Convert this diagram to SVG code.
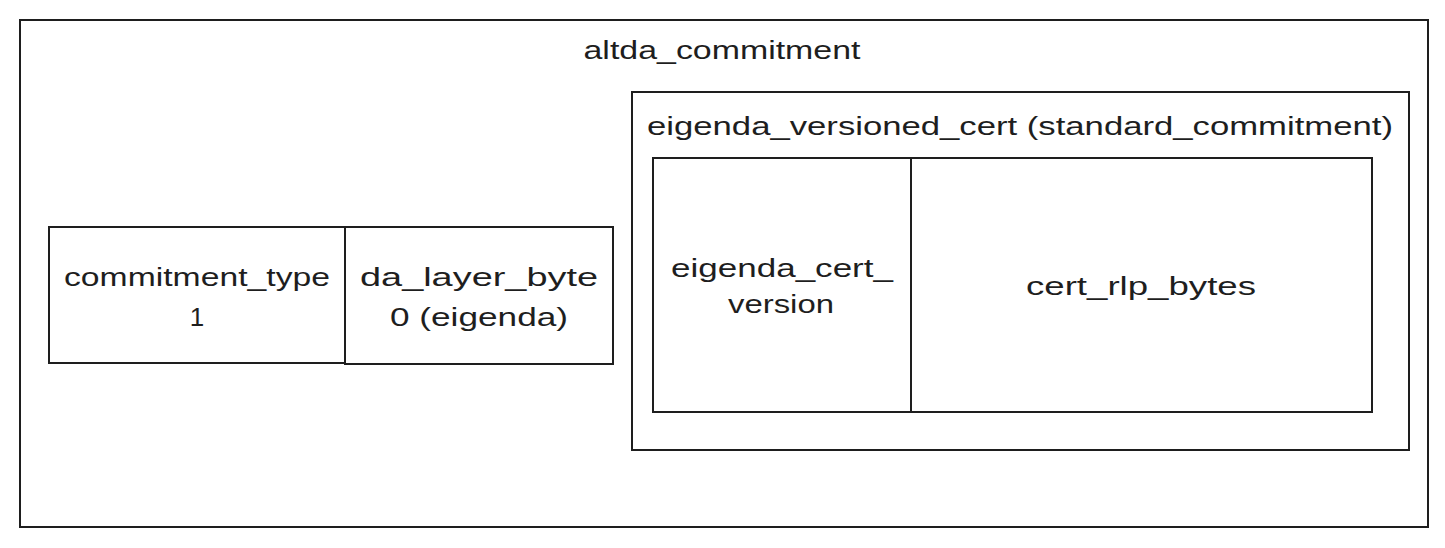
<svg xmlns="http://www.w3.org/2000/svg" width="1445" height="548" viewBox="0 0 1445 548">
<style>
.box{fill:none;stroke:#1e1e1e;stroke-width:2}
.t{font-family:"Liberation Sans","Noto Sans",sans-serif;font-size:26px;fill:#1e1e1e;text-anchor:middle}
</style>
<rect width="1445" height="548" fill="#ffffff"/>
<g id="altda_commitment">
<rect class="box" x="20" y="20" width="1408" height="507"/>
<text class="t" x="722" y="59" textLength="277" lengthAdjust="spacingAndGlyphs">altda_commitment</text>
</g>
<g id="commitment_type">
<rect class="box" x="49" y="227" width="296" height="136"/>
<text class="t" x="197" y="286" textLength="266" lengthAdjust="spacingAndGlyphs">commitment_type</text>
<text class="t" x="197" y="326">1</text>
</g>
<g id="da_layer_byte">
<rect class="box" x="345" y="227" width="268" height="137"/>
<text class="t" x="479" y="286" textLength="238" lengthAdjust="spacingAndGlyphs">da_layer_byte</text>
<text class="t" x="479" y="326" textLength="178" lengthAdjust="spacingAndGlyphs">0 (eigenda)</text>
</g>
<g id="eigenda_versioned_cert">
<rect class="box" x="632" y="92" width="777" height="358"/>
<text class="t" x="1020" y="135" textLength="746" lengthAdjust="spacingAndGlyphs">eigenda_versioned_cert (standard_commitment)</text>
</g>
<g id="eigenda_cert_version">
<rect class="box" x="653" y="158" width="258" height="254"/>
<text class="t" x="782" y="277" textLength="222" lengthAdjust="spacingAndGlyphs">eigenda_cert_</text>
<text class="t" x="781" y="313" textLength="106" lengthAdjust="spacingAndGlyphs">version</text>
</g>
<g id="cert_rlp_bytes">
<rect class="box" x="911" y="158" width="461" height="254"/>
<text class="t" x="1141" y="295" textLength="230" lengthAdjust="spacingAndGlyphs">cert_rlp_bytes</text>
</g>
<g id="connectors"/>
</svg>
